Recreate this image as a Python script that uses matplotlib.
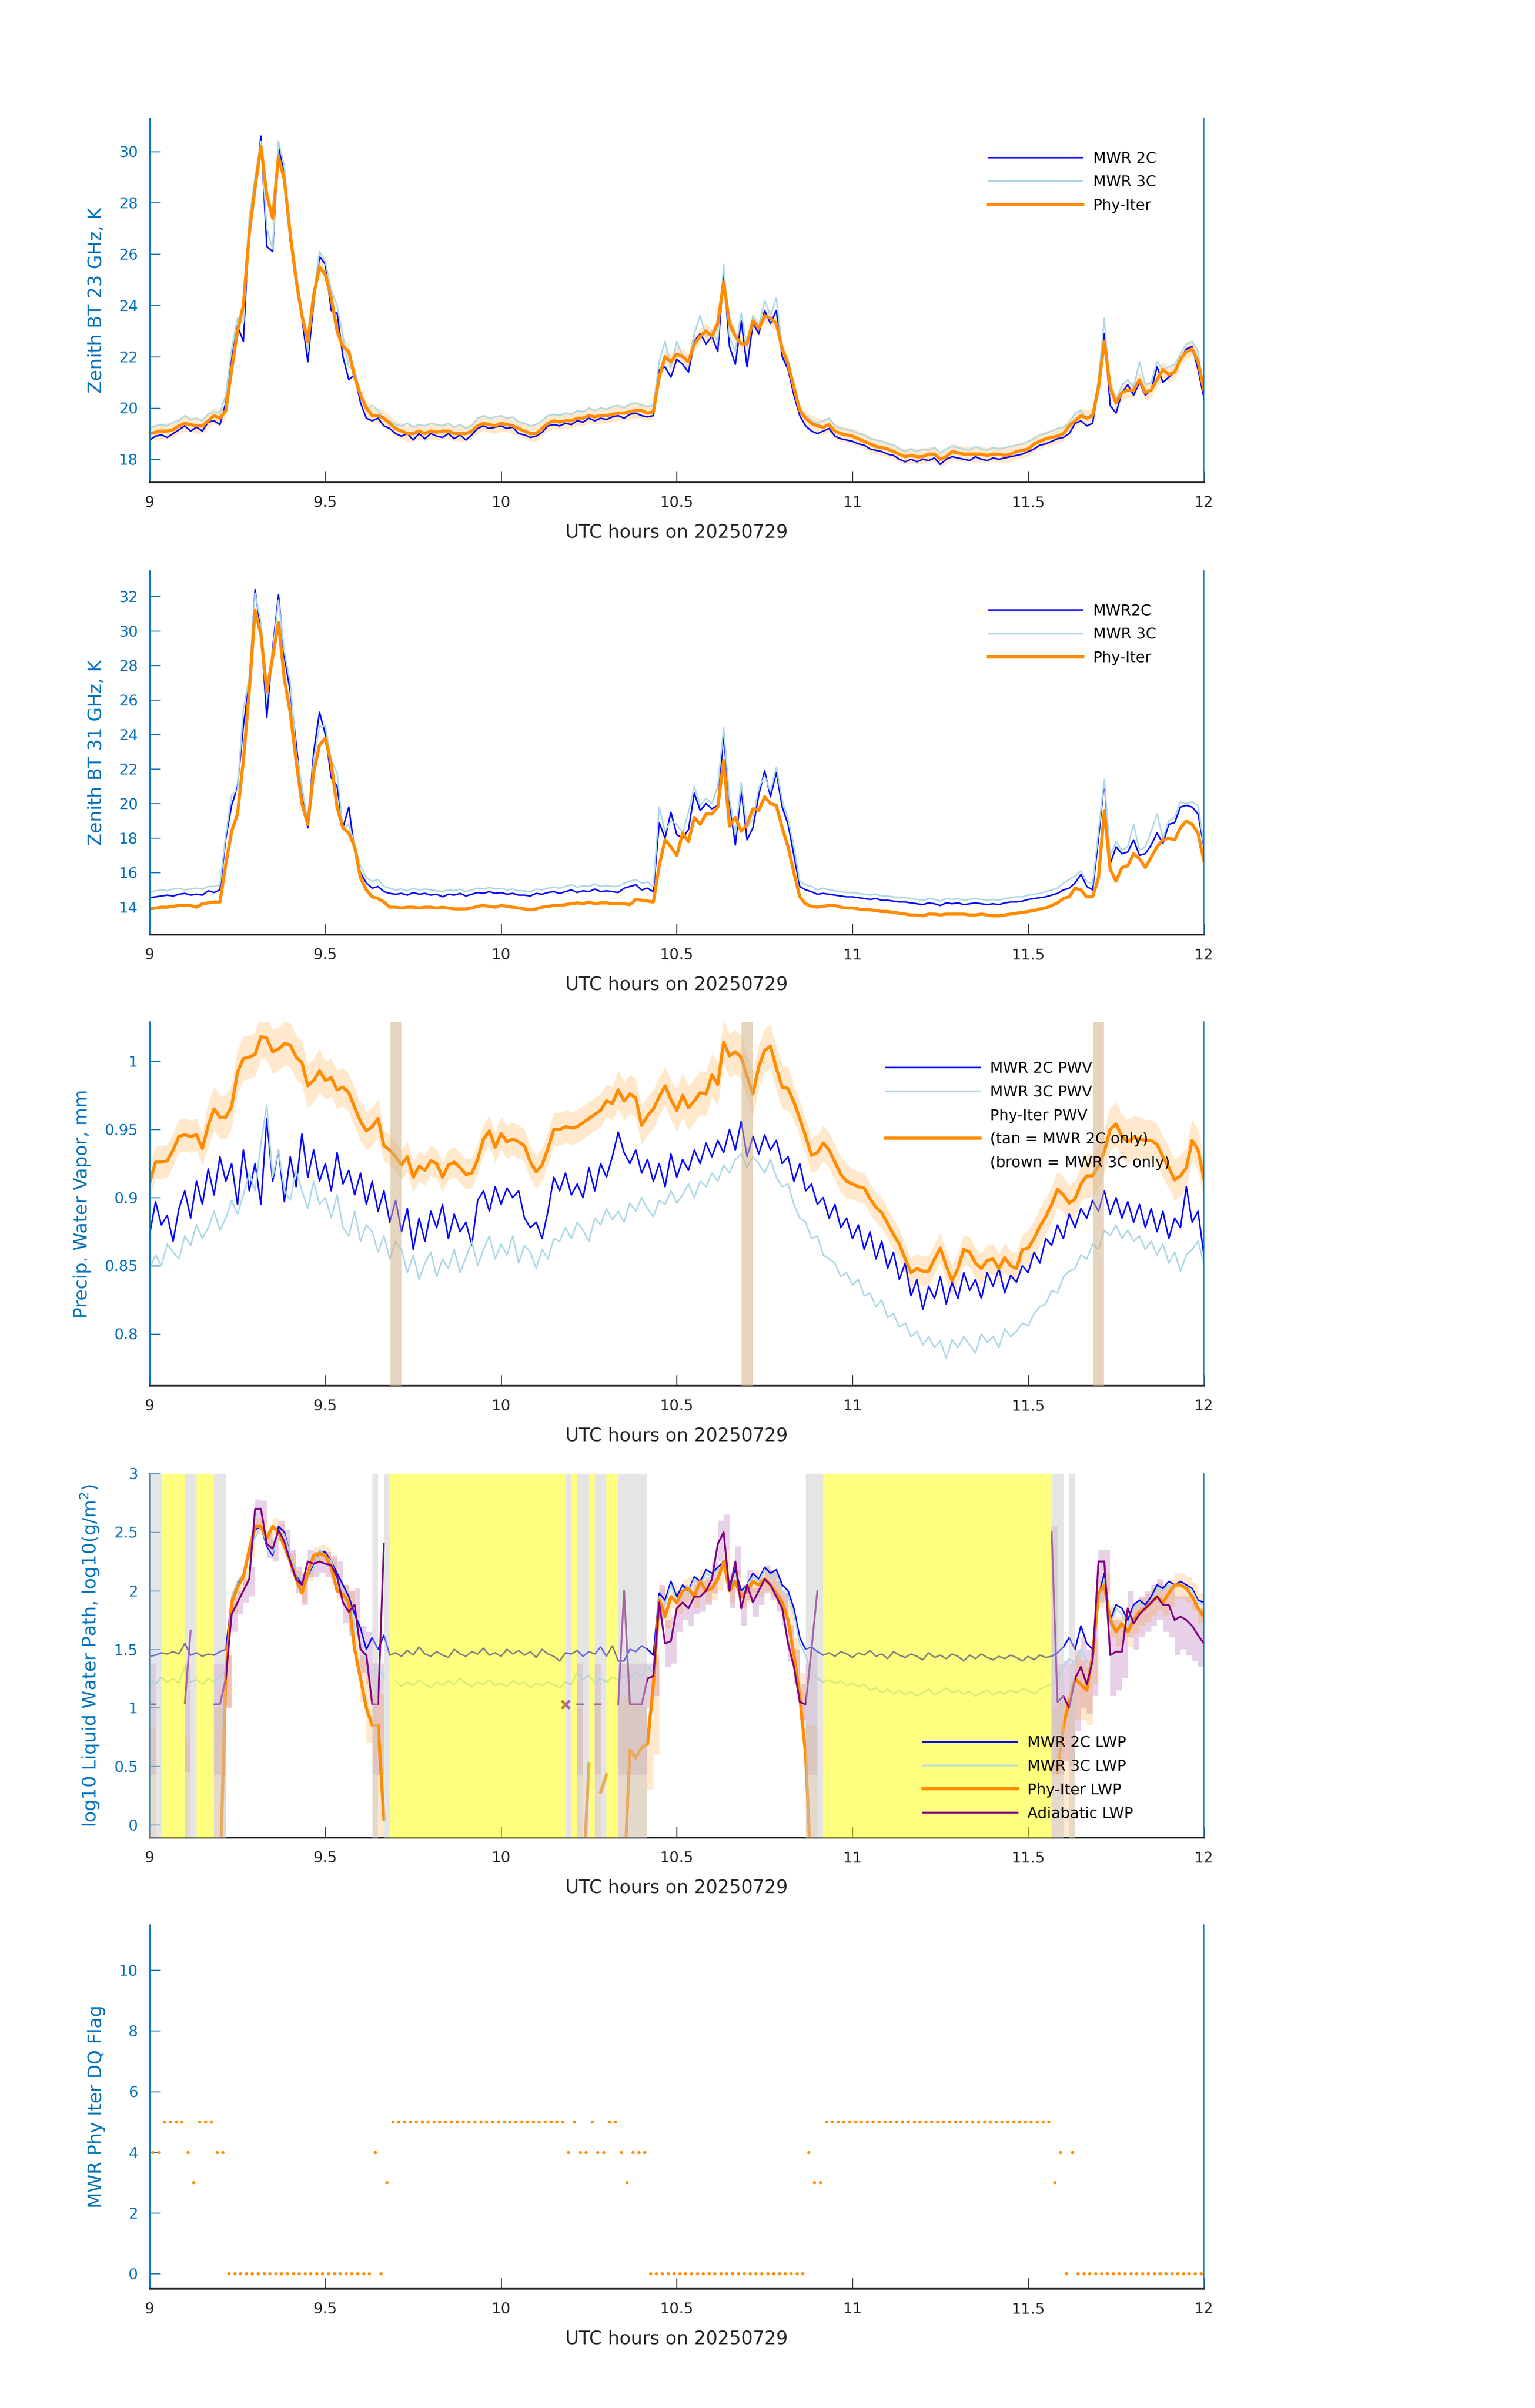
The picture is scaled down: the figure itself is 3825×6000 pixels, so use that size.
import numpy as np
import matplotlib
matplotlib.use('Agg')
import matplotlib.pyplot as plt
from matplotlib.ticker import FuncFormatter
from matplotlib.lines import Line2D

nan = np.nan

# one sample per minute, 09:00 -> 12:00 UTC
t = 9 + np.arange(181) / 60.0

# ---- 23 GHz brightness temperature (K)
bt23_2c = [18.75, 18.9, 18.95, 18.85, 19.0, 19.15, 19.3, 19.1, 19.25, 19.1,
           19.45, 19.5, 19.35, 20.2, 21.9, 23.2, 22.6, 27.2, 28.5, 30.6,
           26.3, 26.1, 30.2, 29.1, 26.5, 25.3, 23.5, 21.8, 24.1, 25.9,
           25.6, 23.8, 23.7, 22.0, 21.1, 21.3, 20.2, 19.6, 19.5, 19.6,
           19.3, 19.2, 19.0, 18.9, 19.0, 18.75, 19.0, 18.8, 19.0, 18.9,
           18.85, 19.0, 18.8, 18.95, 18.75, 18.95, 19.2, 19.3, 19.2, 19.25,
           19.3, 19.2, 19.25, 19.0, 18.95, 18.85, 18.9, 19.05, 19.3, 19.35,
           19.3, 19.4, 19.35, 19.5, 19.45, 19.6, 19.5, 19.6, 19.55, 19.65,
           19.7, 19.6, 19.75, 19.8, 19.7, 19.65, 19.7, 21.5, 21.6, 21.2,
           21.9, 21.7, 21.4, 22.6, 22.9, 22.5, 22.8, 22.2, 25.3, 22.4,
           21.7, 23.4, 21.6, 23.3, 22.9, 23.8, 23.3, 23.8, 22.0, 21.5,
           20.5, 19.7, 19.3, 19.1, 19.0, 19.1, 19.2, 18.9, 18.8, 18.75,
           18.7, 18.6, 18.55, 18.4, 18.35, 18.3, 18.2, 18.15, 18.0, 17.9,
           18.0, 17.9, 18.0, 17.95, 18.05, 17.8, 18.0, 18.1, 18.05, 18.0,
           17.95, 18.1, 18.0, 17.95, 18.05, 18.0, 18.05, 18.1, 18.15, 18.2,
           18.3, 18.4, 18.55, 18.6, 18.7, 18.8, 18.85, 19.0, 19.4, 19.5,
           19.3, 19.4, 20.8, 22.9, 20.1, 19.8, 20.6, 20.9, 20.5, 21.0,
           20.5, 20.7, 21.6, 21.0, 21.2, 21.4, 21.9, 22.3, 22.4, 21.5,
           20.4]
bt23_3c = [19.2, 19.3, 19.35, 19.3, 19.45, 19.5, 19.7, 19.55, 19.6, 19.5,
           19.75, 19.85, 19.8, 20.5, 22.3, 23.5, 23.3, 27.4, 29.0, 30.4,
           27.0, 26.2, 30.4, 29.4, 26.7, 25.4, 23.7, 22.2, 24.4, 26.1,
           25.7, 24.6, 24.0, 22.8, 21.6, 21.5, 20.5, 19.9, 20.1, 19.9,
           19.6, 19.5, 19.35, 19.3, 19.4, 19.25, 19.35, 19.3, 19.4, 19.35,
           19.3, 19.4, 19.25, 19.35, 19.2, 19.3, 19.6, 19.7, 19.6, 19.65,
           19.7, 19.6, 19.65, 19.45, 19.4, 19.3, 19.35, 19.5, 19.7, 19.75,
           19.7, 19.8, 19.75, 19.9, 19.85, 20.0, 19.9, 20.0, 19.95, 20.05,
           20.1, 20.0, 20.15, 20.2, 20.1, 20.05, 20.1, 21.8, 22.6, 21.6,
           22.6, 22.0, 21.8, 22.9, 23.6, 22.8, 23.0, 22.6, 25.6, 22.8,
           22.2, 23.7, 22.4, 23.6, 23.2, 24.2, 23.6, 24.3, 22.3, 21.9,
           20.9, 20.0, 19.7, 19.5, 19.4, 19.5, 19.6, 19.3, 19.2, 19.15,
           19.1, 19.0, 18.95, 18.8, 18.75, 18.7, 18.6, 18.55, 18.4, 18.3,
           18.4, 18.3, 18.4, 18.35, 18.45, 18.25, 18.4, 18.5, 18.45, 18.4,
           18.35, 18.5, 18.4, 18.35, 18.45, 18.4, 18.45, 18.5, 18.55, 18.6,
           18.7, 18.8, 18.95, 19.0, 19.1, 19.2, 19.25, 19.4, 19.8, 19.9,
           19.6, 19.8, 21.1, 23.5, 20.6, 20.3, 20.9, 21.1, 20.8, 21.8,
           20.9, 21.0, 21.8, 21.5, 21.6, 21.7, 22.1, 22.5, 22.6, 22.2,
           20.7]
bt23_phy = [19.0, 19.05, 19.1, 19.1, 19.15, 19.3, 19.4, 19.35, 19.3, 19.3,
            19.5, 19.7, 19.6, 19.9, 21.5, 23.0, 24.0, 26.8, 28.6, 30.2,
            28.3, 27.4, 29.8, 28.9, 26.8, 25.0, 23.6, 22.6, 24.4, 25.5,
            25.2, 24.3, 23.0, 22.4, 22.2, 21.2, 20.5, 20.0, 19.7, 19.7,
            19.6, 19.4, 19.2, 19.1, 19.0, 19.0, 19.1, 19.0, 19.1, 19.05,
            19.1, 19.1, 19.0, 19.0, 19.0, 19.1, 19.3, 19.4, 19.35, 19.3,
            19.4, 19.35, 19.3, 19.2, 19.1, 19.0, 19.0, 19.2, 19.4, 19.5,
            19.45, 19.5, 19.5, 19.6, 19.6, 19.7, 19.65, 19.7, 19.7, 19.75,
            19.8, 19.8, 19.85, 19.9, 19.9, 19.8, 19.85, 21.2, 22.0, 21.8,
            22.1, 22.0, 21.8, 22.5, 22.8, 23.0, 22.8, 23.3, 24.9, 23.3,
            22.8, 22.5, 22.5, 23.4, 23.1, 23.6, 23.5, 23.3, 22.3, 21.7,
            20.8, 19.9, 19.6, 19.4, 19.3, 19.25, 19.35, 19.1, 19.0, 18.95,
            18.9, 18.8, 18.7, 18.6, 18.5, 18.45, 18.4, 18.3, 18.2, 18.1,
            18.15, 18.1, 18.1, 18.2, 18.2, 18.0, 18.1, 18.3, 18.25, 18.2,
            18.2, 18.2, 18.2, 18.15, 18.2, 18.2, 18.15, 18.2, 18.3, 18.35,
            18.4, 18.6, 18.7, 18.8, 18.85, 18.9, 19.0, 19.3, 19.5, 19.7,
            19.6, 19.7, 20.8, 22.6, 20.8, 20.2, 20.6, 20.7, 20.7, 21.1,
            20.6, 20.7, 21.1, 21.5, 21.3, 21.4, 21.9, 22.2, 22.3, 21.8,
            20.7]
bt23_err = 0.3

# ---- 31 GHz brightness temperature (K)
bt31_2c = [14.55, 14.6, 14.65, 14.7, 14.65, 14.75, 14.8, 14.7, 14.75, 14.7,
           14.95, 14.85, 15.0, 18.0, 19.9, 21.0, 24.5, 27.0, 32.4, 30.0,
           25.0, 29.0, 32.1, 28.5, 26.5, 23.5, 20.5, 18.6, 23.0, 25.3,
           24.0, 21.5, 21.0, 18.6, 19.8, 17.3, 16.0, 15.4, 15.1, 15.2,
           14.9, 14.8, 14.75, 14.8, 14.7, 14.85, 14.75, 14.8, 14.7, 14.75,
           14.6, 14.75, 14.7, 14.8, 14.65, 14.75, 14.85, 14.8, 14.9, 14.8,
           14.85, 14.75, 14.8, 14.7, 14.7, 14.65, 14.8, 14.75, 14.85, 14.9,
           14.8, 14.9, 15.0, 14.85, 14.95, 14.9, 15.05, 14.9, 14.95, 14.9,
           14.85, 15.1, 15.2, 15.3, 15.0, 15.1, 14.9, 18.9, 18.0, 19.5,
           18.2, 18.0, 18.5, 20.6, 19.6, 20.0, 19.7, 19.9, 24.0, 20.0,
           17.6, 20.8, 17.9, 18.6, 20.5, 21.9, 20.4, 21.8, 19.8, 18.8,
           17.0, 15.2, 15.0, 14.9, 14.75, 14.8, 14.75, 14.7, 14.65, 14.6,
           14.6, 14.55, 14.5, 14.45, 14.5, 14.4, 14.4, 14.35, 14.3, 14.3,
           14.25, 14.2, 14.15, 14.25, 14.2, 14.1, 14.25, 14.2, 14.25, 14.15,
           14.2, 14.25, 14.2, 14.15, 14.2, 14.15, 14.25, 14.3, 14.3, 14.35,
           14.45, 14.5, 14.55, 14.6, 14.7, 14.8, 15.0, 15.1, 15.4, 15.9,
           15.2, 15.0, 18.0, 21.3, 16.5, 17.5, 17.1, 17.2, 17.9, 17.0,
           17.1, 17.6, 18.3, 17.7, 18.8, 18.9, 19.8, 19.9, 19.8, 19.4,
           17.5]
bt31_3c = [14.85, 14.95, 15.0, 14.95, 15.05, 15.1, 15.0, 15.05, 15.1, 15.05,
           15.2, 15.2, 15.3, 18.2, 20.5, 20.8, 25.5, 27.3, 32.2, 30.5,
           26.0, 28.8, 31.8, 28.8, 27.0, 23.0, 21.0, 18.9, 22.5, 24.5,
           24.5, 22.5, 21.8, 18.5, 18.8, 17.6, 16.4, 15.7, 15.5, 15.6,
           15.2, 15.1, 15.0, 15.05, 14.95, 15.1, 15.0, 15.05, 15.0, 14.95,
           14.9, 15.0, 14.95, 15.05, 14.9, 15.0, 15.1, 15.05, 15.15, 15.05,
           15.1, 15.0, 15.05, 14.95, 14.95, 14.9, 15.05, 15.0, 15.1, 15.15,
           15.1, 15.2, 15.3, 15.15, 15.25, 15.2, 15.35, 15.2, 15.25, 15.2,
           15.2, 15.4, 15.5, 15.6, 15.4, 15.45, 15.2, 19.8, 18.4, 19.0,
           18.8, 18.3, 19.5, 21.0, 19.9, 20.3, 20.0, 21.0, 24.4, 20.3,
           18.2, 21.2, 18.6, 19.1, 20.9, 21.6, 20.7, 22.1, 20.2, 19.1,
           17.5, 15.5, 15.3, 15.2, 15.0, 15.1, 15.0, 14.95, 14.9, 14.85,
           14.85, 14.8, 14.75, 14.7, 14.75, 14.65, 14.65, 14.6, 14.55, 14.55,
           14.5, 14.45, 14.4, 14.5, 14.45, 14.35, 14.5, 14.45, 14.5, 14.4,
           14.45, 14.5, 14.45, 14.4, 14.45, 14.4, 14.5, 14.55, 14.6, 14.6,
           14.7, 14.75, 14.8, 14.9, 15.0, 15.1, 15.4, 15.6, 15.8, 16.1,
           15.5, 15.3, 18.4, 21.4, 17.0, 17.8, 17.3, 17.5, 18.8, 17.3,
           17.5, 18.4, 19.4, 18.0, 19.0, 19.2, 20.1, 20.0, 20.1, 19.9,
           17.6]
bt31_phy = [13.9, 13.95, 14.0, 14.0, 14.05, 14.1, 14.1, 14.1, 14.0, 14.2,
            14.25, 14.3, 14.3, 16.5, 18.4, 19.4, 22.5, 26.5, 31.2, 29.8,
            26.5, 28.5, 30.5, 27.2, 25.3, 22.5, 20.0, 18.8, 21.8, 23.4,
            23.8, 22.3, 19.8, 18.6, 18.3, 17.5, 15.7, 15.0, 14.6, 14.5,
            14.3, 14.0, 14.0, 13.95, 14.0, 14.0, 13.95, 14.0, 14.0, 13.95,
            14.0, 13.95, 13.9, 13.9, 13.9, 13.95, 14.05, 14.1, 14.05, 14.0,
            14.1, 14.05, 14.0, 13.95, 13.9, 13.85, 13.9, 14.0, 14.05, 14.1,
            14.1, 14.15, 14.2, 14.25, 14.2, 14.3, 14.2, 14.25, 14.25, 14.2,
            14.2, 14.2, 14.15, 14.45, 14.4, 14.35, 14.3, 16.4, 17.9, 17.5,
            17.0, 18.3, 17.8, 19.2, 18.8, 19.4, 19.4, 19.8, 22.5, 18.7,
            19.2, 18.4, 18.8, 19.7, 19.6, 20.4, 20.0, 19.9, 18.6, 17.5,
            16.0, 14.6, 14.2, 14.05, 14.0, 14.05, 14.1, 14.1, 14.0, 13.95,
            13.95, 13.9, 13.85, 13.85, 13.8, 13.75, 13.75, 13.7, 13.65, 13.6,
            13.55, 13.55, 13.5, 13.6, 13.6, 13.55, 13.6, 13.6, 13.6, 13.6,
            13.55, 13.55, 13.6, 13.55, 13.5, 13.5, 13.55, 13.6, 13.65, 13.7,
            13.75, 13.8, 13.9, 13.95, 14.1, 14.25, 14.5, 14.6, 15.1, 15.0,
            14.6, 14.6, 15.7, 19.6, 16.2, 15.5, 16.3, 16.4, 17.1, 16.8,
            16.3, 16.9, 17.5, 17.9, 18.0, 17.9, 18.6, 19.0, 18.8, 18.3,
            16.7]

# ---- precipitable water vapour (mm)
pwv_2c = [0.873, 0.897, 0.880, 0.887, 0.868, 0.892, 0.905, 0.885, 0.912, 0.895,
          0.921, 0.902, 0.930, 0.912, 0.925, 0.895, 0.935, 0.905, 0.925, 0.895,
          0.958, 0.912, 0.935, 0.897, 0.930, 0.908, 0.947, 0.915, 0.935, 0.912,
          0.925, 0.905, 0.933, 0.910, 0.920, 0.902, 0.918, 0.895, 0.912, 0.890,
          0.905, 0.882, 0.898, 0.875, 0.892, 0.862, 0.885, 0.868, 0.890, 0.878,
          0.895, 0.870, 0.888, 0.875, 0.882, 0.865, 0.898, 0.905, 0.890, 0.908,
          0.895, 0.907, 0.900, 0.905, 0.885, 0.878, 0.882, 0.870, 0.890, 0.915,
          0.905, 0.918, 0.902, 0.910, 0.900, 0.922, 0.905, 0.925, 0.915, 0.930,
          0.948, 0.933, 0.925, 0.935, 0.918, 0.928, 0.912, 0.925, 0.908, 0.932,
          0.915, 0.928, 0.920, 0.935, 0.925, 0.940, 0.930, 0.942, 0.933, 0.950,
          0.935, 0.956, 0.930, 0.945, 0.932, 0.946, 0.935, 0.942, 0.925, 0.930,
          0.912, 0.925, 0.905, 0.910, 0.895, 0.900, 0.885, 0.895, 0.878, 0.885,
          0.870, 0.880, 0.862, 0.875, 0.855, 0.868, 0.848, 0.860, 0.840, 0.852,
          0.828, 0.840, 0.818, 0.835, 0.826, 0.842, 0.822, 0.838, 0.826, 0.845,
          0.832, 0.840, 0.826, 0.845, 0.835, 0.848, 0.830, 0.843, 0.838, 0.850,
          0.845, 0.860, 0.852, 0.870, 0.865, 0.880, 0.870, 0.888, 0.878, 0.892,
          0.885, 0.898, 0.890, 0.905, 0.888, 0.900, 0.885, 0.897, 0.882, 0.895,
          0.878, 0.892, 0.875, 0.890, 0.870, 0.885, 0.878, 0.908, 0.882, 0.890,
          0.858]
pwv_3c = [0.848, 0.858, 0.850, 0.866, 0.860, 0.855, 0.872, 0.865, 0.880, 0.870,
          0.878, 0.890, 0.876, 0.885, 0.898, 0.888, 0.902, 0.918, 0.905, 0.940,
          0.968, 0.915, 0.935, 0.905, 0.898, 0.920, 0.905, 0.892, 0.912, 0.895,
          0.900, 0.885, 0.902, 0.878, 0.872, 0.890, 0.868, 0.880, 0.875, 0.860,
          0.872, 0.855, 0.868, 0.862, 0.845, 0.858, 0.840, 0.852, 0.860, 0.842,
          0.855, 0.848, 0.862, 0.845, 0.856, 0.868, 0.850, 0.862, 0.872, 0.855,
          0.866, 0.858, 0.872, 0.852, 0.865, 0.860, 0.848, 0.862, 0.855, 0.870,
          0.868, 0.878, 0.870, 0.882, 0.876, 0.868, 0.885, 0.880, 0.892, 0.884,
          0.890, 0.882, 0.896, 0.890, 0.900, 0.892, 0.886, 0.898, 0.895, 0.905,
          0.896, 0.902, 0.910, 0.900, 0.912, 0.908, 0.918, 0.912, 0.924, 0.918,
          0.928, 0.932, 0.922, 0.930, 0.925, 0.918, 0.928, 0.915, 0.908, 0.910,
          0.895, 0.885, 0.882, 0.870, 0.872, 0.858, 0.855, 0.852, 0.842, 0.845,
          0.836, 0.840, 0.828, 0.830, 0.820, 0.825, 0.812, 0.815, 0.805, 0.808,
          0.798, 0.802, 0.792, 0.798, 0.790, 0.795, 0.782, 0.796, 0.790, 0.798,
          0.792, 0.786, 0.800, 0.794, 0.798, 0.790, 0.804, 0.798, 0.802, 0.808,
          0.806, 0.815, 0.820, 0.822, 0.832, 0.830, 0.842, 0.846, 0.848, 0.858,
          0.855, 0.866, 0.862, 0.876, 0.872, 0.880, 0.870, 0.876, 0.868, 0.872,
          0.862, 0.868, 0.858, 0.866, 0.852, 0.860, 0.846, 0.858, 0.862, 0.868,
          0.852]
pwv_phy = [0.911, 0.926, 0.926, 0.927, 0.935, 0.945, 0.946, 0.945, 0.946, 0.936,
           0.953, 0.965, 0.959, 0.959, 0.967, 0.992, 1.002, 1.003, 1.005, 1.018,
           1.017, 1.007, 1.009, 1.013, 1.012, 1.003, 0.999, 0.982, 0.986, 0.993,
           0.986, 0.988, 0.979, 0.981, 0.977, 0.966, 0.956, 0.949, 0.952, 0.958,
           0.938, 0.935, 0.930, 0.924, 0.930, 0.915, 0.923, 0.920, 0.927, 0.925,
           0.915, 0.924, 0.926, 0.922, 0.917, 0.918, 0.928, 0.943, 0.949, 0.937,
           0.947, 0.941, 0.943, 0.941, 0.938, 0.926, 0.919, 0.924, 0.936, 0.950,
           0.950, 0.952, 0.951, 0.952, 0.955, 0.958, 0.961, 0.964, 0.971, 0.969,
           0.979, 0.971, 0.976, 0.973, 0.953, 0.960, 0.965, 0.974, 0.982, 0.972,
           0.964, 0.975, 0.966, 0.971, 0.977, 0.976, 0.990, 0.983, 1.014, 1.004,
           1.007, 1.003, 0.989, 0.976, 0.996, 1.008, 1.011, 0.995, 0.981, 0.980,
           0.970, 0.958, 0.945, 0.931, 0.933, 0.940, 0.935, 0.926, 0.917, 0.912,
           0.910, 0.908, 0.907, 0.899, 0.893, 0.889, 0.881, 0.873, 0.866, 0.855,
           0.845, 0.848, 0.846, 0.846, 0.855, 0.863, 0.850, 0.839, 0.848, 0.862,
           0.860, 0.852, 0.848, 0.854, 0.855, 0.848, 0.856, 0.850, 0.848, 0.862,
           0.863, 0.870, 0.879, 0.886, 0.895, 0.906, 0.902, 0.896, 0.899, 0.910,
           0.916, 0.916, 0.923, 0.934, 0.950, 0.954, 0.945, 0.941, 0.944, 0.943,
           0.942, 0.942, 0.939, 0.930, 0.922, 0.913, 0.916, 0.922, 0.942, 0.935,
           0.914]
# retrieval uncertainty, one value per 10 minutes
pwv_err10 = [0.012, 0.016, 0.016, 0.014, 0.011, 0.011, 0.012, 0.012, 0.014, 0.016,
             0.016, 0.013, 0.011, 0.011, 0.011, 0.013, 0.016, 0.015, 0.015]
# periods where only MWR 2C was available
tan_spans = [(9.685, 9.716), (10.685, 10.716), (11.685, 11.716)]

# ---- log10 liquid water path
lwp_2c = [1.44, 1.45, 1.47, 1.46, 1.48, 1.46, 1.55, 1.45, 1.47, 1.44,
          1.46, 1.45, 1.48, 1.50, 1.93, 2.05, 2.15, 2.3, 2.52, 2.55,
          2.38, 2.3, 2.55, 2.5, 2.3, 2.15, 2.05, 2.1, 2.22, 2.33,
          2.33, 2.25, 2.15, 2.05, 1.95, 1.8, 1.68, 1.5, 1.6, 1.5,
          1.62, 1.45, 1.47, 1.44, 1.49, 1.45, 1.52, 1.46, 1.44, 1.48,
          1.45, 1.43, 1.50, 1.46, 1.44, 1.48, 1.46, 1.51, 1.45, 1.47,
          1.44, 1.50, 1.46, 1.49, 1.45, 1.48, 1.43, 1.50, 1.46, 1.44,
          1.40, 1.47, 1.46, 1.49, 1.44, 1.48, 1.46, 1.52, 1.44, 1.53,
          1.40, 1.40, 1.50, 1.48, 1.53, 1.50, 1.45, 1.98, 1.92, 2.08,
          1.95, 2.05, 2.0, 2.12, 2.08, 2.18, 2.15, 2.2, 2.25, 2.05,
          2.18, 2.0, 2.05, 2.15, 2.1, 2.2, 2.15, 2.18, 2.05, 2.0,
          1.85, 1.6, 1.5, 1.52, 1.48, 1.45, 1.47, 1.44, 1.48, 1.46,
          1.43, 1.47, 1.45, 1.49, 1.44, 1.46, 1.42, 1.48, 1.45, 1.43,
          1.46, 1.44, 1.41, 1.47, 1.43, 1.45, 1.42, 1.46, 1.44, 1.40,
          1.45, 1.42, 1.46, 1.43, 1.41, 1.44, 1.42, 1.45, 1.43, 1.40,
          1.44, 1.41, 1.45, 1.43, 1.44, 1.47, 1.52, 1.60, 1.50, 1.70,
          1.55, 1.5, 1.95, 2.15, 1.75, 1.88, 1.85, 1.75, 1.88, 1.92,
          1.88, 1.95, 2.05, 2.02, 2.08, 2.05, 2.08, 2.05, 2.02, 1.92,
          1.9]
lwp_3c = [1.24, 1.20, 1.26, 1.22, 1.25, 1.21, 1.35, 1.22, 1.24, 1.20,
          1.25, 1.22, 1.27, 1.30, 1.95, 2.08, 2.15, 2.3, 2.45, 2.55,
          2.4, 2.32, 2.5, 2.48, 2.3, 2.15, 2.08, 2.1, 2.2, 2.35,
          2.3, 2.25, 2.1, 2.0, 1.9, 1.7, 1.55, 1.4, 1.3, 1.35,
          1.25, nan, 1.23, 1.18, 1.22, 1.19, 1.24, 1.20, 1.17, 1.22,
          1.19, 1.23, 1.20, 1.25, 1.21, 1.18, 1.22, 1.20, 1.24, 1.19,
          1.21, 1.18, 1.23, 1.20, 1.22, 1.17, 1.21, 1.19, 1.22, 1.20,
          1.17, 1.22, 1.20, 1.30, 1.24, 1.28, 1.21, 1.25, 1.22, 1.26,
          1.24, 1.28, 1.25, 1.30, 1.27, 1.35, 1.30, 1.95, 1.88, 2.05,
          1.92, 2.0, 1.98, 2.1, 2.05, 2.15, 2.12, 2.18, 2.22, 2.0,
          2.15, 1.95, 2.05, 2.12, 2.08, 2.18, 2.12, 2.15, 2.0, 1.95,
          1.8, 1.55, 1.45, 1.3, 1.25, 1.22, 1.24, 1.21, 1.23, 1.19,
          1.21, 1.18, 1.20, 1.15, 1.17, 1.13, 1.16, 1.12, 1.15, 1.11,
          1.14, 1.10, 1.13, 1.16, 1.11, 1.14, 1.17, 1.13, 1.15, 1.12,
          1.14, 1.10, 1.13, 1.15, 1.11, 1.14, 1.12, 1.15, 1.13, 1.16,
          1.15, 1.12, 1.16, 1.18, 1.20, 1.25, 1.35, 1.42, 1.38, 1.5,
          1.4, 1.35, 1.9, 2.1, 1.7, 1.85, 1.8, 1.7, 1.85, 1.9,
          1.85, 1.92, 2.02, 2.0, 2.05, 2.02, 2.06, 2.03, 2.0, 1.9,
          1.88]
lwp_phy = [nan, nan, nan, nan, nan, nan, nan, nan, nan, nan,
           nan, nan, -0.5, 1.3, 1.9, 2.03, 2.12, 2.35, 2.55, 2.55,
           2.45, 2.55, 2.5, 2.38, 2.25, 2.1, 1.98, 2.15, 2.3, 2.32,
           2.3, 2.2, 2.0, 1.97, 1.9, 1.5, 1.25, 1.0, 0.85, 0.85,
           0.05, nan, nan, nan, nan, nan, nan, nan, nan, nan,
           nan, nan, nan, nan, nan, nan, nan, nan, nan, nan,
           nan, nan, nan, nan, nan, nan, nan, nan, nan, nan,
           nan, nan, nan, nan, -0.5, 0.52, nan, 0.28, 0.43, nan,
           nan, -0.5, 0.64, 0.57, 0.66, 0.69, 1.2, 1.92, 1.78, 1.95,
           1.9, 2.0, 2.02, 1.95, 2.08, 2.0, 2.02, 2.1, 2.25, 2.0,
           2.08, 1.95, 2.0, 2.08, 2.05, 2.1, 2.05, 1.98, 1.9, 1.75,
           1.45, 1.1, 0.6, -0.5, nan, nan, nan, nan, nan, nan,
           nan, nan, nan, nan, nan, nan, nan, nan, nan, nan,
           nan, nan, nan, nan, nan, nan, nan, nan, nan, nan,
           nan, nan, nan, nan, nan, nan, nan, nan, nan, nan,
           nan, nan, nan, nan, nan, 0.45, 0.85, 1.05, 1.25, 1.2,
           1.15, 1.45, 1.98, 2.05, 1.75, 1.65, 1.72, 1.65, 1.75, 1.82,
           1.85, 1.9, 1.95, 1.9, 1.98, 2.05, 2.05, 2.02, 1.95, 1.85,
           1.78]
phy_lo = [-1, -1, nan, nan, nan, nan, -1, -1, nan, nan,
          nan, -1, -1, 1.0, 1.8, 1.95, 2.05, 2.28, 2.48, 2.48,
          2.38, 2.48, 2.43, 2.31, 2.18, 2.03, 1.9, 2.08, 2.23, 2.25,
          2.23, 2.12, 1.92, 1.88, 1.8, 1.35, 1.05, 0.7, -1, -1,
          -1, nan, nan, nan, nan, nan, nan, nan, nan, nan,
          nan, nan, nan, nan, nan, nan, nan, nan, nan, nan,
          nan, nan, nan, nan, nan, nan, nan, nan, nan, nan,
          nan, -1, nan, -1, -1, nan, -1, -1, nan, nan,
          -1, -1, -1, -1, -1, 0.3, 0.6, 1.82, 1.68, 1.85,
          1.8, 1.9, 1.92, 1.85, 1.98, 1.9, 1.92, 2.0, 2.15, 1.9,
          1.98, 1.85, 1.9, 1.98, 1.95, 2.0, 1.95, 1.88, 1.78, 1.6,
          1.25, 0.85, -1, -1, -1, nan, nan, nan, nan, nan,
          nan, nan, nan, nan, nan, nan, nan, nan, nan, nan,
          nan, nan, nan, nan, nan, nan, nan, nan, nan, nan,
          nan, nan, nan, nan, nan, nan, nan, nan, nan, nan,
          nan, nan, nan, nan, -1, -1, -1, -1, 0.9, 0.9,
          0.85, 1.2, 1.85, 1.95, 1.6, 1.52, 1.6, 1.52, 1.63, 1.7,
          1.73, 1.78, 1.83, 1.78, 1.86, 1.93, 1.93, 1.9, 1.83, 1.72,
          1.65]
phy_hi = [0.84, 0.84, nan, nan, nan, nan, 0.75, 1.0, nan, nan,
          nan, 1.0, 1.0, 1.5, 2.0, 2.1, 2.2, 2.42, 2.62, 2.62,
          2.52, 2.62, 2.57, 2.45, 2.32, 2.17, 2.05, 2.22, 2.37, 2.39,
          2.37, 2.28, 2.08, 2.05, 2.0, 1.65, 1.45, 1.25, 1.12, 1.12,
          1.12, nan, nan, nan, nan, nan, nan, nan, nan, nan,
          nan, nan, nan, nan, nan, nan, nan, nan, nan, nan,
          nan, nan, nan, nan, nan, nan, nan, nan, nan, nan,
          nan, 0.8, nan, 1.0, 1.0, nan, 1.05, 1.05, nan, nan,
          1.05, 1.1, 1.05, 1.05, 1.0, 0.9, 1.4, 2.02, 1.9, 2.05,
          2.0, 2.1, 2.12, 2.05, 2.18, 2.1, 2.12, 2.2, 2.35, 2.1,
          2.18, 2.05, 2.1, 2.18, 2.15, 2.2, 2.15, 2.08, 2.0, 1.88,
          1.6, 1.3, 0.85, 0.85, 0.85, nan, nan, nan, nan, nan,
          nan, nan, nan, nan, nan, nan, nan, nan, nan, nan,
          nan, nan, nan, nan, nan, nan, nan, nan, nan, nan,
          nan, nan, nan, nan, nan, nan, nan, nan, nan, nan,
          nan, nan, nan, nan, 1.0, 1.05, 1.05, 1.2, 1.45, 1.4,
          1.35, 1.6, 2.1, 2.15, 1.88, 1.78, 1.84, 1.78, 1.87, 1.94,
          1.97, 2.02, 2.07, 2.02, 2.1, 2.15, 2.15, 2.12, 2.07, 1.98,
          1.92]
lwp_adi = [1.03, 1.03, nan, nan, nan, nan, 1.04, 1.66, nan, nan,
           nan, 1.03, 1.03, 1.25, 1.8, 1.9, 2.0, 2.1, 2.7, 2.7,
           2.4, 2.36, 2.52, 2.42, 2.25, 2.1, 2.05, 2.25, 2.23, 2.25,
           2.23, 2.22, 2.12, 1.9, 1.82, 1.88, 1.5, 1.45, 1.03, 1.03,
           2.4, nan, nan, nan, nan, nan, nan, nan, nan, nan,
           nan, nan, nan, nan, nan, nan, nan, nan, nan, nan,
           nan, nan, nan, nan, nan, nan, nan, nan, nan, nan,
           nan, 1.03, nan, 1.03, 1.03, nan, 1.03, 1.03, nan, nan,
           1.03, 2.0, 1.03, 1.03, 1.03, 1.25, 1.27, 1.9, 1.55, 1.57,
           1.85, 1.9, 1.85, 1.95, 1.95, 2.0, 2.1, 2.4, 2.5, 2.0,
           2.25, 1.85, 2.05, 1.9, 2.0, 2.1, 2.05, 1.95, 1.85, 1.55,
           1.35, 1.05, 1.03, 1.5, 2.0, nan, nan, nan, nan, nan,
           nan, nan, nan, nan, nan, nan, nan, nan, nan, nan,
           nan, nan, nan, nan, nan, nan, nan, nan, nan, nan,
           nan, nan, nan, nan, nan, nan, nan, nan, nan, nan,
           nan, nan, nan, nan, 2.5, 1.05, 1.1, 1.0, 1.25, 1.35,
           1.2, 1.4, 2.25, 2.25, 1.45, 1.48, 1.48, 1.85, 1.72, 1.8,
           1.85, 1.9, 1.95, 1.88, 1.88, 1.75, 1.78, 1.75, 1.7, 1.62,
           1.55]
adi_lo = [0.43, 0.43, nan, nan, nan, nan, 0.45, 0.45, nan, nan,
          nan, 0.43, 0.43, 1.0, 1.65, 1.8, 1.9, 1.95, 2.55, 2.58,
          2.28, 2.25, 2.42, 2.32, 2.15, 1.98, 1.88, 2.12, 2.12, 2.15,
          2.12, 2.1, 1.98, 1.72, 1.62, 1.68, 1.3, 1.2, 0.43, 0.43,
          0.43, nan, nan, nan, nan, nan, nan, nan, nan, nan,
          nan, nan, nan, nan, nan, nan, nan, nan, nan, nan,
          nan, nan, nan, nan, nan, nan, nan, nan, nan, nan,
          nan, 0.43, nan, 0.43, 0.43, nan, 0.43, 0.43, nan, nan,
          0.43, 0.43, 0.43, 0.43, 0.43, 1.0, 1.1, 1.75, 1.35, 1.38,
          1.65, 1.75, 1.7, 1.8, 1.82, 1.88, 1.98, 2.25, 2.35, 1.85,
          2.12, 1.7, 1.92, 1.78, 1.88, 1.98, 1.92, 1.82, 1.7, 1.4,
          1.2, 0.9, 0.43, 0.43, 0.43, nan, nan, nan, nan, nan,
          nan, nan, nan, nan, nan, nan, nan, nan, nan, nan,
          nan, nan, nan, nan, nan, nan, nan, nan, nan, nan,
          nan, nan, nan, nan, nan, nan, nan, nan, nan, nan,
          nan, nan, nan, nan, 0.43, 0.43, 0.55, 0.5, 0.8, 1.0,
          0.95, 1.1, 1.9, 2.0, 1.1, 1.15, 1.25, 1.6, 1.5, 1.6,
          1.65, 1.7, 1.75, 1.65, 1.6, 1.45, 1.5, 1.45, 1.4, 1.35,
          1.3]
adi_hi = [1.38, 1.38, nan, nan, nan, nan, 1.38, 1.86, nan, nan,
          nan, 1.38, 1.38, 1.45, 1.95, 2.0, 2.1, 2.2, 2.78, 2.77,
          2.5, 2.45, 2.6, 2.52, 2.35, 2.2, 2.15, 2.35, 2.33, 2.35,
          2.33, 2.3, 2.25, 2.05, 2.0, 2.02, 1.7, 1.65, 1.38, 1.38,
          1.38, nan, nan, nan, nan, nan, nan, nan, nan, nan,
          nan, nan, nan, nan, nan, nan, nan, nan, nan, nan,
          nan, nan, nan, nan, nan, nan, nan, nan, nan, nan,
          nan, 1.38, nan, 1.38, 1.38, nan, 1.38, 1.38, nan, nan,
          1.38, 1.38, 1.38, 1.38, 1.38, 1.38, 1.45, 2.05, 1.75, 1.78,
          2.0, 2.05, 2.0, 2.1, 2.08, 2.12, 2.25, 2.6, 2.65, 2.15,
          2.38, 2.0, 2.18, 2.02, 2.12, 2.22, 2.18, 2.08, 1.98, 1.7,
          1.5, 1.2, 1.38, 1.5, 2.15, nan, nan, nan, nan, nan,
          nan, nan, nan, nan, nan, nan, nan, nan, nan, nan,
          nan, nan, nan, nan, nan, nan, nan, nan, nan, nan,
          nan, nan, nan, nan, nan, nan, nan, nan, nan, nan,
          nan, nan, nan, nan, 2.55, 1.38, 1.4, 1.38, 1.5, 1.6,
          1.5, 1.7, 2.35, 2.35, 1.75, 1.75, 1.7, 2.0, 1.9, 1.95,
          2.0, 2.05, 2.1, 2.05, 2.05, 1.95, 1.95, 1.95, 1.9, 1.85,
          1.75]

# ---- Phy-Iter data quality flag
dq_flag = [4, 4, 5, 5, 5, 5, 4, 3, 5, 5,
           5, 4, 4, 0, 0, 0, 0, 0, 0, 0,
           0, 0, 0, 0, 0, 0, 0, 0, 0, 0,
           0, 0, 0, 0, 0, 0, 0, 0, 4, 0,
           3, 5, 5, 5, 5, 5, 5, 5, 5, 5,
           5, 5, 5, 5, 5, 5, 5, 5, 5, 5,
           5, 5, 5, 5, 5, 5, 5, 5, 5, 5,
           5, 4, 5, 4, 4, 5, 4, 4, 5, 5,
           4, 3, 4, 4, 4, 0, 0, 0, 0, 0,
           0, 0, 0, 0, 0, 0, 0, 0, 0, 0,
           0, 0, 0, 0, 0, 0, 0, 0, 0, 0,
           0, 0, 4, 3, 3, 5, 5, 5, 5, 5,
           5, 5, 5, 5, 5, 5, 5, 5, 5, 5,
           5, 5, 5, 5, 5, 5, 5, 5, 5, 5,
           5, 5, 5, 5, 5, 5, 5, 5, 5, 5,
           5, 5, 5, 5, 3, 4, 0, 4, 0, 0,
           0, 0, 0, 0, 0, 0, 0, 0, 0, 0,
           0, 0, 0, 0, 0, 0, 0, 0, 0, 0,
           0]

AXBLUE = '#0072BD'
DARK = '#262626'
C2 = 'blue'
C3 = 'lightblue'
CPHY = 'darkorange'
CADI = 'purple'
FS_TICK = 9
FS_LAB = 11

fig = plt.figure(figsize=(12.75, 20), dpi=300)
bottoms = [0.7997, 0.6118, 0.4245, 0.2368, 0.0495]
axes = [fig.add_axes([0.0975, b, 0.6868, 0.1512]) for b in bottoms]
fmt = FuncFormatter(lambda v, p: '%g' % v)


def style(ax, ylabel, ylim, yticks):
    ax.set_xlim(9, 12)
    ax.set_ylim(*ylim)
    ax.set_xticks(np.arange(9, 12.01, 0.5))
    ax.set_yticks(yticks)
    ax.xaxis.set_major_formatter(fmt)
    ax.yaxis.set_major_formatter(fmt)
    ax.spines['top'].set_visible(False)
    ax.spines['left'].set_color(AXBLUE)
    ax.spines['left'].set_linewidth(0.7)
    ax.spines['right'].set_color(AXBLUE)
    ax.spines['right'].set_linewidth(0.5)
    ax.spines['bottom'].set_color(DARK)
    ax.spines['bottom'].set_linewidth(1.0)
    ax.tick_params(axis='y', direction='in', length=6.5, width=0.6,
                   colors=AXBLUE, labelsize=FS_TICK, pad=7)
    ax.tick_params(axis='x', direction='in', length=6.5, width=0.6,
                   colors=DARK, labelsize=FS_TICK, pad=8)
    ax.set_xlabel('UTC hours on 20250729', fontsize=FS_LAB, color=DARK, labelpad=8)
    ax.set_ylabel(ylabel, fontsize=FS_LAB, color=AXBLUE, labelpad=8)


def legend(ax, handles, labels, x, y):
    lg = ax.legend(handles, labels, loc='upper left', bbox_to_anchor=(x, y),
                   frameon=False, fontsize=9, handlelength=6.27, handletextpad=0.68,
                   labelspacing=0.6, borderpad=0, borderaxespad=0)
    lg.set_zorder(20)


def runs(mask):
    out, start = [], None
    for i, m in enumerate(mask):
        if m and start is None:
            start = i
        if not m and start is not None:
            out.append((start, i - 1))
            start = None
    if start is not None:
        out.append((start, len(mask) - 1))
    return out


# panel 1: 23 GHz
ax = axes[0]
ax.plot(t, bt23_2c, color=C2, lw=0.9)
ax.plot(t, bt23_3c, color=C3, lw=0.9)
p23 = np.array(bt23_phy)
ax.fill_between(t, p23 - bt23_err, p23 + bt23_err, color=CPHY, alpha=0.2, lw=0)
ax.plot(t, p23, color=CPHY, lw=1.9)
style(ax, 'Zenith BT 23 GHz, K', (17.1, 31.3), np.arange(18, 31, 2))
legend(ax, [Line2D([], [], color=C2, lw=0.9), Line2D([], [], color=C3, lw=0.9),
            Line2D([], [], color=CPHY, lw=1.9)],
       ['MWR 2C', 'MWR 3C', 'Phy-Iter'], 0.7956, 0.908)

# panel 2: 31 GHz
ax = axes[1]
ax.plot(t, bt31_2c, color=C2, lw=0.9)
ax.plot(t, bt31_3c, color=C3, lw=0.9)
ax.plot(t, bt31_phy, color=CPHY, lw=1.9)
style(ax, 'Zenith BT 31 GHz, K', (12.4, 33.5), np.arange(14, 33, 2))
legend(ax, [Line2D([], [], color=C2, lw=0.9), Line2D([], [], color=C3, lw=0.9),
            Line2D([], [], color=CPHY, lw=1.9)],
       ['MWR2C', 'MWR 3C', 'Phy-Iter'], 0.7956, 0.908)

# panel 3: PWV
ax = axes[2]
ax.plot(t, pwv_2c, color=C2, lw=0.9)
ax.plot(t, pwv_3c, color=C3, lw=0.9)
pp = np.array(pwv_phy)
perr = np.repeat(pwv_err10, 10)[:len(t)]
ax.fill_between(t, pp - perr, pp + perr, color=CPHY, alpha=0.2, lw=0)
ax.plot(t, pp, color=CPHY, lw=1.9)
for a, b in tan_spans:
    ax.axvspan(a, b, color='tan', alpha=0.55, lw=0, zorder=5)
style(ax, 'Precip. Water Vapor, mm', (0.762, 1.029), [0.8, 0.85, 0.9, 0.95, 1.0])
blank = Line2D([], [], color='none')
legend(ax, [Line2D([], [], color=C2, lw=0.9), Line2D([], [], color=C3, lw=0.9),
            blank, Line2D([], [], color=CPHY, lw=1.9), blank],
       ['MWR 2C PWV', 'MWR 3C PWV', 'Phy-Iter PWV', '(tan = MWR 2C only)',
        '(brown = MWR 3C only)'], 0.698, 0.890)

# panel 4: LWP
ax = axes[3]
ax.plot(t, lwp_2c, color=C2, lw=0.9)
ax.plot(t, lwp_3c, color=C3, lw=0.9)
ax.fill_between(t, adi_lo, adi_hi, color=CADI, alpha=0.18, lw=0, step='post')
ax.fill_between(t, phy_lo, phy_hi, color=CPHY, alpha=0.2, lw=0, step='post')
ax.plot(t, lwp_phy, color=CPHY, lw=1.9)
ladi = np.array(lwp_adi)
ax.plot(t, ladi, color=CADI, lw=1.1)
fin = np.isfinite(ladi)
prev_nan = np.concatenate([[True], ~fin[:-1]])
next_nan = np.concatenate([~fin[1:], [True]])
iso = fin & prev_nan & next_nan
ax.plot(t[iso], ladi[iso], ls='none', marker='x', ms=5, mew=1.6, color=CADI)
flags = np.array(dq_flag)
for s, e in runs(flags == 5):
    ax.axvspan(t[s], t[e] + 1 / 60, color='yellow', alpha=0.5, lw=0, zorder=5)
for s, e in runs((flags == 3) | (flags == 4)):
    ax.axvspan(t[s], t[e] + 1 / 60, color=(0.8, 0.8, 0.8), alpha=0.5, lw=0, zorder=5)
style(ax, 'log10 Liquid Water Path, log10(g/m$^2$)', (-0.11, 3.0),
      [0, 0.5, 1, 1.5, 2, 2.5, 3])
legend(ax, [Line2D([], [], color=C2, lw=0.9), Line2D([], [], color=C3, lw=0.9),
            Line2D([], [], color=CPHY, lw=1.9), Line2D([], [], color=CADI, lw=1.1)],
       ['MWR 2C LWP', 'MWR 3C LWP', 'Phy-Iter LWP', 'Adiabatic LWP'], 0.7335, 0.2796)

# panel 5: DQ flag
ax = axes[4]
ax.plot(t + 1 / 120, flags, ls='none', marker='o', ms=1.9, mew=0, color=CPHY)
style(ax, 'MWR Phy Iter DQ Flag', (-0.5, 11.5), [0, 2, 4, 6, 8, 10])

fig.savefig('out.png', dpi=300)
